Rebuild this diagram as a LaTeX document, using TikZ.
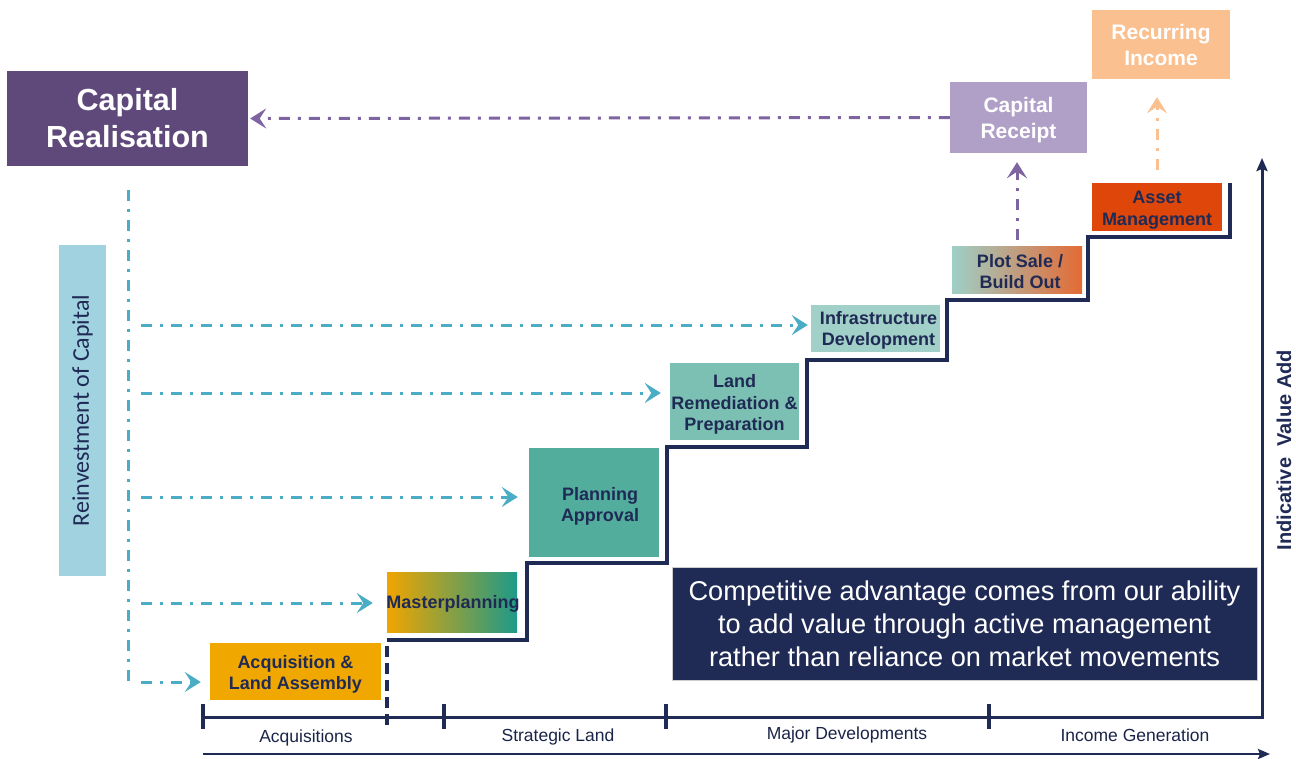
\documentclass[tikz,border=0pt]{standalone}
\usepackage{fontspec}
\setmainfont{Liberation Sans}
\newfontfamily\calib{Carlito}
\usetikzlibrary{arrows.meta,calc}
\definecolor{navy}{RGB}{31,42,85}
\definecolor{purpleD}{RGB}{95,73,123}
\definecolor{purpleL}{RGB}{176,160,199}
\definecolor{purpleA}{RGB}{127,100,162}
\definecolor{peach}{RGB}{250,192,144}
\definecolor{assetC}{RGB}{222,70,10}
\definecolor{plotL}{RGB}{158,207,199}
\definecolor{plotR}{RGB}{228,106,52}
\definecolor{infraC}{RGB}{161,208,200}
\definecolor{landC}{RGB}{124,192,179}
\definecolor{planC}{RGB}{82,173,157}
\definecolor{mastL}{RGB}{240,165,0}
\definecolor{mastR}{RGB}{30,154,136}
\definecolor{acqC}{RGB}{240,168,0}
\definecolor{reinvC}{RGB}{161,210,224}
\definecolor{tealA}{RGB}{75,172,198}
\begin{document}
\begin{tikzpicture}[x=1pt,y=-1pt,
  stepbox/.style={inner sep=0pt},
  steptext/.style={inner sep=0pt, font=\bfseries\fontsize{18}{21.5}\selectfont, text=navy, align=center},
  toptext/.style={inner sep=0pt, font=\bfseries\fontsize{21}{26}\selectfont, text=white, align=center},
  tip/.style={-{Stealth[length=16pt,width=20pt,inset=6.5pt]}},
  dashdot/.style={line width=3pt, dash pattern=on 11pt off 8pt on 3pt off 8pt},
  tealarrow/.style={draw=tealA, dashdot, tip},
  purplearrow/.style={draw=purpleA, dashdot, tip},
  peacharrow/.style={draw=peach, dashdot, tip},
  axislabel/.style={inner sep=0pt, font=\fontsize{17.5}{20}\selectfont, text=navy!85!black},
  stair/.style={draw=navy, line width=3.5pt, line join=miter}
]
\useasboundingbox (0,0) rectangle (1296,758);

% top boxes
\node[fill=purpleD, inner sep=0pt, minimum width=241pt, minimum height=95pt,
      font=\bfseries\fontsize{30.5}{37}\selectfont, text=white, align=center]
      (caprel) at (127.5,118.5) {Capital\\Realisation};
\node[stepbox, fill=purpleL, minimum width=137pt, minimum height=71pt] (caprec) at (1018.5,117.5) {};
\node[toptext] (caprecT) at ($(caprec)+(0,3)$) {Capital\\Receipt};
\node[stepbox, fill=peach, minimum width=138pt, minimum height=69pt] (recinc) at (1161,44.5) {};
\node[toptext] (recincT) at ($(recinc)+(0,0.5)$) {Recurring\\Income};

% step boxes
\node[stepbox, fill=assetC, minimum width=130pt, minimum height=48pt] (asset) at (1157,207) {};
\node[steptext] (assetT) at ($(asset)+(0,3)$) {Asset\\Management};
\node[stepbox, left color=plotL, right color=plotR, minimum width=130pt, minimum height=47pt] (plot) at (1017,269.5) {};
\node[steptext] (plotT) at ($(plot)+(3,2)$) {Plot Sale /\\Build Out};
\node[stepbox, fill=infraC, minimum width=129pt, minimum height=47pt] (infra) at (875.5,328.5) {};
\node[steptext] (infraT) at ($(infra)+(3,2)$) {Infrastructure\\Development};
\node[stepbox, fill=landC, minimum width=129pt, minimum height=77pt] (land) at (734.5,401.5) {};
\node[steptext] (landT) at ($(land)+(0,3)$) {Land\\Remediation \&\\Preparation};
\node[stepbox, fill=planC, minimum width=130pt, minimum height=109pt] (plan) at (594,502.5) {};
\node[steptext] (planT) at ($(plan)+(6,4)$) {Planning\\Approval};
\node[stepbox, left color=mastL, right color=mastR, minimum width=130pt, minimum height=60pt] (mast) at (452,602) {};
\node[steptext] (mastT) at ($(mast)+(1,2)$) {Masterplanning};
\node[stepbox, fill=acqC, minimum width=171pt, minimum height=57pt] (acq) at (295.5,671.5) {};
\node[steptext] (acqT) at ($(acq)+(0,3)$) {Acquisition \&\\Land Assembly};

\node[fill=reinvC, inner sep=0pt, minimum width=331pt, minimum height=47pt, rotate=90,
      font=\calib\fontsize{24}{28}\selectfont, text=navy] (reinv) at (82.5,410.5) {Reinvestment of Capital};
\node[fill=navy, draw=gray!40, line width=0.6pt, inner sep=0pt, minimum width=585pt, minimum height=113pt,
      font=\fontsize{27.2}{33}\selectfont, text=white, align=center] (adv) at (964.5,623.5)
      {Competitive advantage comes from our ability\\to add value through active management\\rather than reliance on market movements};

% staircase
\draw[stair] (387,640) -- (527,640) -- (527,563) -- (667,563) -- (667,447) -- (807,447)
  -- (807,360) -- (947,360) -- (947,300) -- (1088,300) -- (1088,237) -- (1230,237) -- (1230,183);
\draw[draw=navy, line width=3.5pt, dash pattern=on 11pt off 6pt] (387,646) -- (387,728);

% axes
\coordinate (ax0) at (203,717);
\coordinate (axc) at (1262,717);
\coordinate (axtop) at (1262,158);
\draw[navy, line width=3pt, line join=miter, -{Stealth[length=13pt,width=11pt,inset=2pt]}] (ax0) -- (axc) -- (axtop);
\foreach \tx in {203,444,666,989} \draw[navy, line width=3.5pt] (\tx,704) -- (\tx,729);
\coordinate (b0) at (203,754);
\coordinate (b1) at (1270,754);
\draw[navy, line width=2.5pt, -{Stealth[length=12pt,width=10pt,inset=2pt]}] (b0) -- (b1);

\node[axislabel] (l1) at (306,738) {Acquisitions};
\node[axislabel] (l2) at (558,737) {Strategic Land};
\node[axislabel] (l3) at (847,735) {Major Developments};
\node[axislabel] (l4) at (1135,735) {Income Generation};
\node[rotate=90, inner sep=0pt, font=\bfseries\fontsize{20}{23}\selectfont, text=navy] (iva) at (1284,450) {Indicative\ \ Value Add};

% purple / peach connectors
\draw[purplearrow, shorten >=2pt] (caprec.west) -- (caprel.east);
\draw[purplearrow, shorten <=6pt, shorten >=9pt] (plot.north) -- (plot.north |- caprec.south);
\draw[peacharrow, shorten <=13pt, shorten >=18pt] (asset.north) -- (asset.north |- recinc.south);

% teal reinvestment connectors
\coordinate (vtop) at (128,190);
\coordinate (vbot) at (128,682);
\draw[draw=tealA, dashdot] (vtop) -- (vbot);
\coordinate (h1) at (141,325);
\coordinate (h2) at (141,393);
\coordinate (h3) at (141,497);
\coordinate (h4) at (141,603);
\coordinate (h5) at (141,682);
\draw[tealarrow, shorten >=3pt] (h1) -- (h1 -| infra.west);
\draw[tealarrow, shorten >=9pt] (h2) -- (h2 -| land.west);
\draw[tealarrow, shorten >=11pt] (h3) -- (h3 -| plan.west);
\draw[tealarrow, shorten >=14pt] (h4) -- (h4 -| mast.west);
\draw[tealarrow, shorten >=9pt] (h5) -- (h5 -| acq.west);
\end{tikzpicture}
\end{document}
